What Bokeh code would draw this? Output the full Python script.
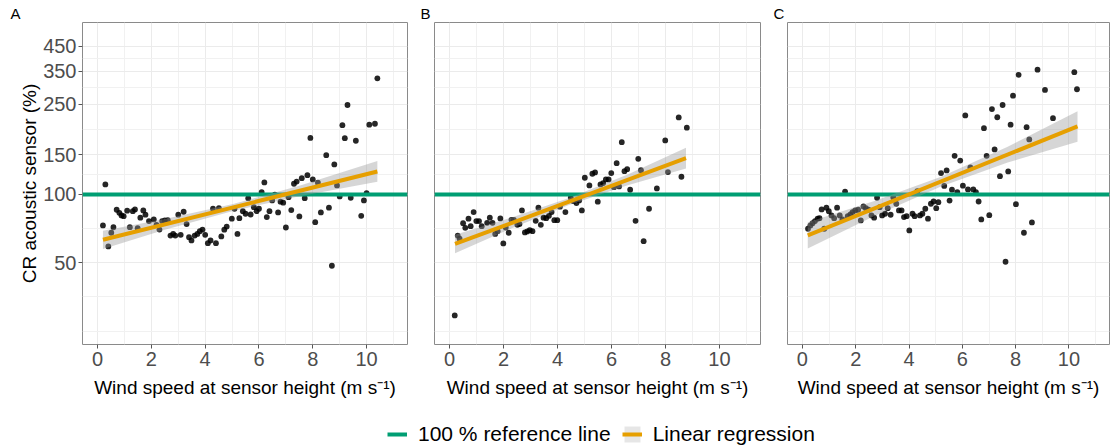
from bokeh.plotting import figure
from bokeh.models import Range1d, FixedTicker, Legend, LegendItem, NumeralTickFormatter
from bokeh.layouts import row, column
from bokeh.embed import file_html
from bokeh.resources import INLINE

FONT = "Liberation Sans"
GREEN = "#009E73"
ORANGE = "#E69F00"

# ---------------- data ----------------
a_wind = [0.29, 0.20, 0.40, 0.51, 0.59, 0.71, 0.81, 0.89, 0.97, 1.10, 1.20, 1.31, 1.39, 1.49, 1.59,
          1.70, 1.78, 1.91, 2.09, 2.19, 2.30, 2.40, 2.50, 2.61, 2.71, 2.81, 2.89, 3.00, 3.09, 3.20,
          3.31, 3.40, 3.49, 3.61, 3.71, 3.80, 3.90, 4.00, 4.10, 4.20, 4.29, 4.40, 4.51, 4.60, 4.71,
          4.80, 4.99, 5.09, 5.20, 5.27, 5.40, 5.50, 5.60, 5.69, 5.81, 5.91, 6.00, 6.10, 6.20, 6.29,
          6.39, 6.49, 6.59, 6.71, 6.80, 6.90, 7.00, 7.10, 7.20, 7.30, 7.40, 7.50, 7.59, 7.70, 7.80,
          7.91, 8.00, 8.09, 8.19, 8.30, 8.50, 8.60, 8.71, 8.80, 8.90, 9.00, 9.10, 9.19, 9.29, 9.41,
          9.60, 9.80, 9.90, 10.00, 10.10, 10.31, 10.40]
a_cr = [110.7, 73.0, 59.0, 67.8, 71.7, 85.6, 83.0, 80.8, 80.2, 84.8, 71.7, 84.4, 85.9, 71.0, 79.0,
        85.0, 81.4, 76.3, 77.6, 73.5, 70.0, 76.3, 76.8, 77.0, 65.9, 67.0, 65.9, 81.4, 66.4, 83.9,
        74.0, 64.8, 62.7, 65.9, 67.0, 68.9, 70.0, 66.4, 61.0, 62.7, 86.5, 61.0, 87.0, 65.3, 69.9,
        72.2, 78.2, 86.5, 67.0, 78.6, 84.4, 82.2, 96.3, 81.6, 87.9, 84.4, 86.5, 102.4, 113.0, 79.5,
        84.4, 94.1, 99.7, 83.3, 92.9, 92.0, 71.5, 97.3, 85.3, 111.5, 114.0, 80.0, 118.0, 96.3, 121.6,
        177.6, 116.5, 75.5, 112.6, 83.3, 149.0, 87.4, 48.5, 135.7, 109.6, 98.0, 202.0, 177.0, 248.0, 96.7,
        172.5, 80.5, 94.1, 101.3, 203.0, 205.0, 325.0]

b_wind = [0.19, 0.30, 0.37, 0.50, 0.58, 0.70, 0.78, 0.89, 0.99, 1.09, 1.19, 1.39, 1.49, 1.59, 1.69,
          1.78, 1.88, 1.99, 2.08, 2.19, 2.29, 2.38, 2.51, 2.59, 2.68, 2.79, 2.88, 2.97, 3.07, 3.19,
          3.29, 3.38, 3.48, 3.58, 3.68, 3.78, 3.88, 3.99, 4.09, 4.29, 4.49, 4.59, 4.70, 4.80, 4.90,
          5.01, 5.18, 5.29, 5.39, 5.49, 5.59, 5.69, 5.79, 5.89, 5.99, 6.09, 6.19, 6.28, 6.38, 6.48,
          6.58, 6.69, 6.89, 6.99, 7.09, 7.19, 7.39, 7.68, 7.99, 8.09, 8.49, 8.59, 8.79]
b_cr = [29.3, 65.9, 63.8, 74.7, 71.3, 78.2, 72.5, 83.6, 76.3, 76.3, 72.5, 75.0, 79.0, 75.0, 67.0,
        68.9, 78.4, 60.8, 71.5, 67.8, 77.3, 77.3, 73.5, 74.0, 85.0, 68.0, 68.7, 69.6, 68.9, 76.5,
        87.4, 73.5, 79.0, 78.6, 80.5, 83.6, 77.0, 77.0, 88.3, 83.6, 96.7, 93.4, 91.6, 94.1, 85.0,
        118.5, 109.6, 123.4, 125.0, 92.9, 110.7, 112.2, 116.5, 116.5, 124.2, 107.7, 137.4, 108.5, 170.0, 126.7,
        129.3, 104.9, 76.5, 143.6, 128.0, 62.2, 86.5, 106.3, 173.0, 125.5, 218.7, 119.7, 197.0]

c_wind = [0.21, 0.30, 0.38, 0.47, 0.57, 0.64, 0.72, 0.82, 0.90, 0.99, 1.09, 1.19, 1.30, 1.40, 1.50,
          1.60, 1.70, 1.80, 1.88, 1.98, 2.09, 2.19, 2.29, 2.38, 2.48, 2.59, 2.69, 2.80, 2.90, 2.99,
          3.10, 3.20, 3.31, 3.41, 3.52, 3.62, 3.72, 3.81, 3.91, 4.01, 4.13, 4.21, 4.31, 4.41, 4.50,
          4.61, 4.71, 4.82, 4.92, 5.02, 5.10, 5.20, 5.32, 5.41, 5.52, 5.61, 5.71, 5.81, 5.92, 6.02,
          6.11, 6.21, 6.30, 6.41, 6.51, 6.61, 6.71, 6.81, 6.91, 7.01, 7.11, 7.21, 7.31, 7.41, 7.51,
          7.62, 7.72, 7.81, 7.90, 8.01, 8.11, 8.31, 8.41, 8.51, 8.61, 8.82, 9.10, 9.40, 10.20, 10.30]
c_cr = [70.6, 73.0, 74.7, 76.3, 78.2, 78.6, 85.9, 70.6, 87.4, 84.4, 80.8, 78.6, 87.4, 80.8, 77.6,
        103.0, 80.2, 81.6, 83.6, 85.0, 85.6, 76.8, 88.5, 87.0, 85.6, 80.8, 79.0, 96.7, 87.9, 80.8,
        82.2, 87.0, 81.4, 97.0, 91.0, 85.0, 85.0, 79.5, 80.2, 69.4, 82.2, 80.2, 103.4, 80.8, 82.2,
        86.5, 78.2, 91.0, 93.1, 87.0, 92.5, 124.2, 109.0, 127.6, 94.0, 105.0, 148.0, 102.4, 141.0, 109.3,
        223.0, 105.2, 131.6, 105.2, 102.4, 93.1, 77.6, 196.0, 148.0, 81.0, 238.0, 158.0, 219.0, 120.4, 248.0,
        50.5, 126.3, 203.0, 272.6, 90.6, 337.0, 67.8, 198.0, 174.8, 75.3, 355.0, 289.0, 217.0, 346.0, 291.0]

# linear regression (fit on log scale) and its confidence band
a_fit_x = [0.2, 10.4]
a_fit_y = [63.1, 126.3]
a_band_x = [0.2, 2.5, 5.0, 7.5, 10.4]
a_band_lo = [57.5, 69.8, 84.4, 98.3, 113.7]
a_band_hi = [69.2, 77.9, 90.5, 109.2, 140.3]

b_fit_x = [0.2, 8.76]
b_fit_y = [60.5, 144.5]
b_band_x = [0.2, 2.3, 4.4, 6.6, 8.76]
b_band_lo = [55.0, 70.9, 89.6, 109.8, 130.1]
b_band_hi = [66.5, 79.1, 96.1, 122.6, 160.5]

c_fit_x = [0.2, 10.32]
c_fit_y = [66.0, 199.5]
c_band_x = [0.2, 2.7, 5.2, 7.7, 10.32]
c_band_lo = [57.7, 80.4, 108.3, 138.3, 170.9]
c_band_hi = [75.5, 93.5, 119.7, 162.3, 232.9]

ref_level = 100

x_ticks = [0, 2, 4, 6, 8, 10]
x_minor = [1, 3, 5, 7, 9, 11]
y_ticks = [50, 100, 150, 250, 350, 450]
y_minor = [25, 35.4, 70.7, 122.5, 193.6, 295.8, 396.9]

x_label = "Wind speed at sensor height (m s\u207b\u00b9)"
y_label = "CR acoustic sensor (%)"
legend_labels = ["100 % reference line", "Linear regression"]


def panel(letter, wind, cr, fx, fy, bx, blo, bhi, width, left, right, show_y, title_offset):
    p = figure(width=width, height=410,
               x_range=Range1d(-0.56, 11.52), y_range=Range1d(21.8, 573),
               y_axis_type="log", output_backend="svg", toolbar_location=None,
               min_border_left=left, min_border_right=right,
               min_border_top=22, min_border_bottom=66,
               y_axis_location="left" if show_y else None)
    p.background_fill_color = "white"
    p.border_fill_color = "white"
    p.outline_line_color = "#8a8a8a"
    p.outline_line_width = 1

    p.title.text = letter
    p.title.text_font = FONT
    p.title.text_font_size = "15px"
    p.title.text_font_style = "normal"
    p.title.text_color = "black"
    p.title.standoff = 2
    p.title.offset = title_offset

    xt = FixedTicker(ticks=x_ticks, minor_ticks=x_minor)
    yt = FixedTicker(ticks=y_ticks, minor_ticks=y_minor)

    p.xaxis.ticker = xt
    p.xaxis.axis_label = x_label
    p.xaxis.axis_label_text_font = FONT
    p.xaxis.axis_label_text_font_size = "19px"
    p.xaxis.axis_label_text_font_style = "normal"
    p.xaxis.axis_label_text_color = "black"
    p.xaxis.axis_label_standoff = 8
    p.xaxis.major_label_text_font = FONT
    p.xaxis.major_label_text_font_size = "20px"
    p.xaxis.major_label_text_color = "#4d4d4d"
    p.xaxis.major_label_standoff = 3
    p.xaxis.axis_line_color = None
    p.xaxis.major_tick_line_color = "#555555"
    p.xaxis.major_tick_out = 4
    p.xaxis.major_tick_in = 0
    p.xaxis.minor_tick_line_color = None

    if show_y:
        p.yaxis.ticker = yt
        p.yaxis.formatter = NumeralTickFormatter(format="0")
        p.yaxis.axis_label = y_label
        p.yaxis.axis_label_text_font = FONT
        p.yaxis.axis_label_text_font_size = "19px"
        p.yaxis.axis_label_text_font_style = "normal"
        p.yaxis.axis_label_text_color = "black"
        p.yaxis.axis_label_standoff = 0
        p.yaxis.major_label_text_font = FONT
        p.yaxis.major_label_text_font_size = "20px"
        p.yaxis.major_label_text_color = "#4d4d4d"
        p.yaxis.major_label_standoff = 2
        p.yaxis.axis_line_color = None
        p.yaxis.major_tick_line_color = "#555555"
        p.yaxis.major_tick_out = 4
        p.yaxis.major_tick_in = 0
        p.yaxis.minor_tick_line_color = None

    p.xgrid.ticker = xt
    p.ygrid.ticker = yt
    for g in (p.xgrid, p.ygrid):
        g.grid_line_color = "#ebebeb"
        g.grid_line_width = 1
        g.minor_grid_line_color = "#f1f1f1"
        g.minor_grid_line_width = 1

    p.scatter(wind, cr, size=5.8, color="black", alpha=0.85, line_width=0)
    p.hspan(y=[ref_level], line_color=GREEN, line_width=4)
    p.varea(x=bx, y1=blo, y2=bhi, fill_color="#999999", fill_alpha=0.4)
    p.line(fx, fy, line_color=ORANGE, line_width=4)
    return p


pa = panel("A", a_wind, a_cr, a_fit_x, a_fit_y, a_band_x, a_band_lo, a_band_hi,
           420, 82, 13, True, -72)
pb = panel("B", b_wind, b_cr, b_fit_x, b_fit_y, b_band_x, b_band_lo, b_band_hi,
           353, 14, 13, False, -14)
pc = panel("C", c_wind, c_cr, c_fit_x, c_fit_y, c_band_x, c_band_lo, c_band_hi,
           337, 14, 1, False, -14)

# legend strip: glyphs are kept outside the visible range, only their legend keys show
lg = figure(width=1110, height=36, x_range=Range1d(0, 1), y_range=Range1d(0, 1),
            output_backend="svg", toolbar_location=None, min_border=0,
            x_axis_location=None, y_axis_location=None)
lg.outline_line_color = None
lg.xgrid.visible = False
lg.ygrid.visible = False
offscreen = [5, 6]
r1 = lg.line(offscreen, offscreen, line_color=GREEN, line_width=4)
r2a = lg.varea(x=offscreen, y1=offscreen, y2=offscreen, fill_color="#e6e6e6", fill_alpha=1)
r2b = lg.line(offscreen, offscreen, line_color=ORANGE, line_width=4)
legend = Legend(items=[LegendItem(label=legend_labels[0], renderers=[r1]),
                       LegendItem(label=legend_labels[1], renderers=[r2a, r2b])],
                orientation="horizontal", location=(387, 0),
                border_line_color=None, background_fill_alpha=0,
                padding=0, margin=0, spacing=11, label_standoff=11,
                glyph_width=20, glyph_height=20,
                label_text_font=FONT, label_text_font_size="21px",
                label_text_color="black")
lg.add_layout(legend, "center")

layout = column(row(pa, pb, pc), lg)
open("out.html", "w").write(file_html(layout, INLINE))
